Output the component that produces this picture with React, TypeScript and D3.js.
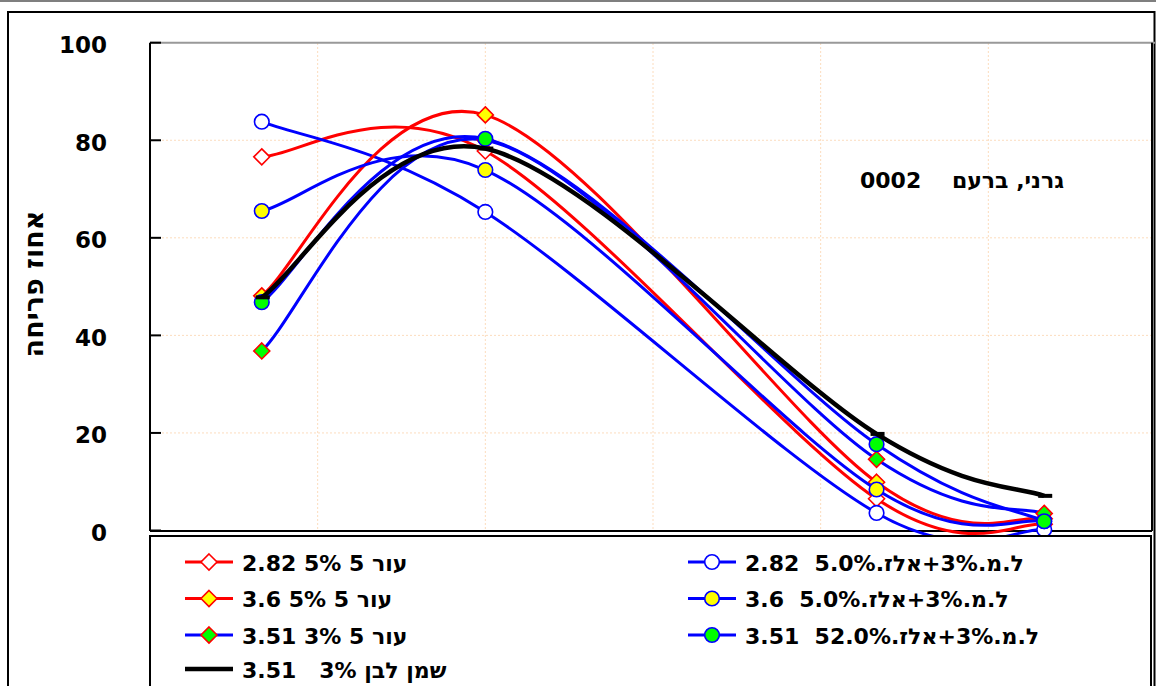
import React from 'react';
import * as d3 from 'd3';

// x positions (days) of the four observations
const xValues = [10, 30, 65, 80];
const xGrid = [15, 30, 45, 60, 75];
const yTicks = [0, 20, 40, 60, 80, 100];

// series values (% flowering)
const skin5_282 = [76.6, 77.8, 6.5, 1.3];
const skin5_36 = [48.1, 85.2, 9.9, 2.4];
const skin5_351 = [36.8, 80.0, 14.6, 3.5];
const lm_282 = [83.8, 65.3, 3.6, 0.2];
const lm_36 = [65.5, 73.9, 8.4, 1.9];
const lm_351 = [46.8, 80.3, 17.7, 1.9];
const oil_351 = [47.8, 78.3, 19.8, 7.1];

const RLE = '\u202B';
const PDF = '\u202C';

const seriesLabels = [
  'עור 5 5% 2.82',
  'ל.מ.3%+אלז.5.0%  2.82',
  'עור 5 5% 3.6',
  'ל.מ.3%+אלז.5.0%  3.6',
  'עור 5 3% 3.51',
  'ל.מ.3%+אלז.52.0%  3.51',
  'שמן לבן 3%   3.51',
];
const titleText = 'גרני, ברעם';
const titleNum = '0002';
const yLabel = 'אחוז פריחה';

type Marker = 'diamond' | 'circle' | 'dash';
interface Series {
  values: number[];
  label: string;
  line: string;
  marker: Marker;
  fill: string;
  stroke: string;
  col: number;
  row: number;
  width: number;
}

// drawing order
const series: Series[] = [
  { values: skin5_282, label: seriesLabels[0], line: '#FF0000', marker: 'diamond', fill: '#FFFFFF', stroke: '#FF0000', col: 0, row: 0, width: 3 },
  { values: lm_282, label: seriesLabels[1], line: '#0000FF', marker: 'circle', fill: '#FFFFFF', stroke: '#0000FF', col: 1, row: 0, width: 3 },
  { values: skin5_36, label: seriesLabels[2], line: '#FF0000', marker: 'diamond', fill: '#FFFF00', stroke: '#FF0000', col: 0, row: 1, width: 3 },
  { values: lm_36, label: seriesLabels[3], line: '#0000FF', marker: 'circle', fill: '#FFFF00', stroke: '#0000FF', col: 1, row: 1, width: 3 },
  { values: skin5_351, label: seriesLabels[4], line: '#0000FF', marker: 'diamond', fill: '#00FF00', stroke: '#FF0000', col: 0, row: 2, width: 3 },
  { values: lm_351, label: seriesLabels[5], line: '#0000FF', marker: 'circle', fill: '#00FF00', stroke: '#0000FF', col: 1, row: 2, width: 3 },
  { values: oil_351, label: seriesLabels[6], line: '#000000', marker: 'dash', fill: 'none', stroke: '#000000', col: 0, row: 3, width: 4.5 },
];

// Excel-like smoothing curve (Catmull-Rom bezier with duplicated end points)
function excelSmooth(context: any) {
  let pts: [number, number][] = [];
  return {
    areaStart() {},
    areaEnd() {},
    lineStart() { pts = []; },
    lineEnd() {
      const n = pts.length;
      if (!n) return;
      context.moveTo(pts[0][0], pts[0][1]);
      for (let i = 0; i < n - 1; i++) {
        const p0 = pts[Math.max(0, i - 1)];
        const p1 = pts[i];
        const p2 = pts[i + 1];
        const p3 = pts[Math.min(n - 1, i + 2)];
        context.bezierCurveTo(
          p1[0] + (p2[0] - p0[0]) / 6, p1[1] + (p2[1] - p0[1]) / 6,
          p2[0] - (p3[0] - p1[0]) / 6, p2[1] - (p3[1] - p1[1]) / 6,
          p2[0], p2[1]
        );
      }
    },
    point(x: number, y: number) { pts.push([x, y]); },
  };
}

const W = 1156;
const H = 686;
const plot = { left: 150, right: 1152, top: 43, bottom: 531 };
const FONT = '"DejaVu Sans", "Liberation Sans", sans-serif';

function MarkerShape({ m, x, y, fill, stroke }: { m: Marker; x: number; y: number; fill: string; stroke: string }) {
  if (m === 'diamond') {
    const r = 8;
    return <path d={`M${x},${y - r}L${x + r},${y}L${x},${y + r}L${x - r},${y}Z`} fill={fill} stroke={stroke} strokeWidth={1.6} />;
  }
  if (m === 'circle') {
    return <circle cx={x} cy={y} r={7.3} fill={fill} stroke={stroke} strokeWidth={1.6} />;
  }
  return <line x1={x - 6} x2={x + 8} y1={y} y2={y} stroke={stroke} strokeWidth={4} />;
}

export default function App() {
  const x = d3.scaleLinear().domain([0, 90]).range([plot.left, 1156]);
  const y = d3.scaleLinear().domain([0, 100]).range([530.5, 42.7]);
  const line = d3.line<number>()
    .x((_, i) => x(xValues[i]))
    .y((d) => y(d))
    .curve(excelSmooth as any);

  const legendCols = [{ l1: 185, l2: 233, tx: 242 }, { l1: 688, l2: 736, tx: 745 }];
  const legendRowY = [562, 598.5, 635, 669];

  return (
    <svg width={W} height={H} style={{ position: 'absolute', left: 0, top: 0, background: '#fff' }} fontFamily={FONT}>
      <defs>
        <clipPath id="plotclip">
          <rect x={plot.left} y={0} width={plot.right - plot.left} height={plot.bottom + 8} />
        </clipPath>
      </defs>
      {/* outer frames */}
      <line x1={0} x2={W} y1={1} y2={1} stroke="#555" strokeWidth={1.5} />
      <path d={`M8,${H}V12H1154.5V${H}`} fill="none" stroke="#000" strokeWidth={2} />

      {/* grid */}
      {xGrid.map((g) => (
        <line key={'gx' + g} x1={x(g)} x2={x(g)} y1={plot.top} y2={plot.bottom} stroke="#FCDCBD" strokeWidth={1} strokeDasharray="2 2" />
      ))}
      {yTicks.filter((t) => t > 0 && t < 100).map((t) => (
        <line key={'gy' + t} x1={plot.left} x2={plot.right} y1={y(t)} y2={y(t)} stroke="#FCDCBD" strokeWidth={1} strokeDasharray="2 2" />
      ))}
      {/* plot borders */}
      <line x1={plot.left} x2={1155} y1={y(100)} y2={y(100)} stroke="#999" strokeWidth={2} />
      <line x1={plot.right} x2={plot.right} y1={y(100)} y2={plot.bottom} stroke="#000" strokeWidth={2} />
      <line x1={plot.left} x2={plot.right} y1={plot.bottom} y2={plot.bottom} stroke="#000" strokeWidth={2} />
      <line x1={plot.left} x2={plot.left} y1={y(100)} y2={plot.bottom} stroke="#000" strokeWidth={2} />

      {/* y ticks */}
      {yTicks.map((t) => (
        <g key={'yt' + t}>
          <line x1={plot.left} x2={plot.left + 11} y1={y(t)} y2={y(t)} stroke="#000" strokeWidth={2} />
          <text x={107} y={y(t) + 10.5} textAnchor="end" fontSize={23} fontWeight="bold">{t}</text>
        </g>
      ))}

      {/* y label */}
      <text transform={`translate(43,284) rotate(-90)`} textAnchor="middle" fontSize={27} fontWeight="bold">{yLabel}</text>

      {/* title */}
      <text x={860} y={188} fontSize={22} fontWeight="bold" style={{ whiteSpace: 'pre' }}>{titleNum + '    ' + RLE + titleText + PDF}</text>

      {/* series */}
      <g clipPath="url(#plotclip)">
        {series.map((s, si) => (
          <g key={'s' + si}>
            <path d={line(s.values) || ''} fill="none" stroke={s.line} strokeWidth={s.width} strokeLinejoin="round" />
            {s.values.map((v, i) => (
              <MarkerShape key={i} m={s.marker} x={x(xValues[i])} y={y(v)} fill={s.fill} stroke={s.stroke} />
            ))}
          </g>
        ))}
      </g>

      {/* legend */}
      <rect x={150} y={536} width={1001} height={200} fill="#fff" stroke="#000" strokeWidth={2} />
      {series.map((s, si) => {
        const c = legendCols[s.col];
        const ly = legendRowY[s.row];
        const mx = (c.l1 + c.l2) / 2;
        return (
          <g key={'lg' + si}>
            <line x1={c.l1} x2={c.l2} y1={ly} y2={ly} stroke={s.line} strokeWidth={s.width} />
            {s.marker !== 'dash' && <MarkerShape m={s.marker} x={mx} y={ly} fill={s.fill} stroke={s.stroke} />}
            <text x={c.tx} y={ly + 8.5} fontSize={22} fontWeight="bold" style={{ whiteSpace: 'pre' }}>{RLE + s.label + PDF}</text>
          </g>
        );
      })}
    </svg>
  );
}
